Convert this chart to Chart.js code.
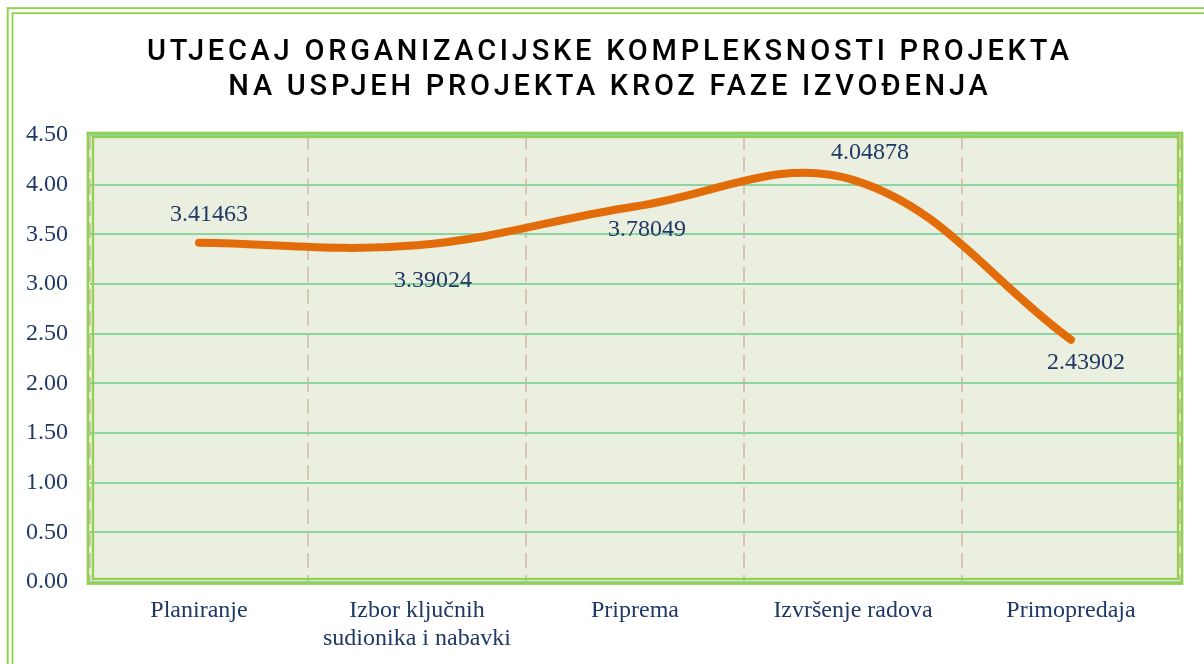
<!DOCTYPE html>
<html>
<head>
<meta charset="utf-8">
<script src="https://cdn.jsdelivr.net/npm/chart.js@4/dist/chart.umd.min.js"></script>
<style>
  html, body { margin: 0; padding: 0; background: #ffffff; }
  #wrap { width: 1204px; height: 664px; }
</style>
</head>
<body>
<div id="wrap"><canvas id="c" width="1204" height="664"></canvas></div>
<script>
const titleLines = ['UTJECAJ ORGANIZACIJSKE KOMPLEKSNOSTI PROJEKTA', 'NA USPJEH PROJEKTA KROZ FAZE IZVOĐENJA'];
const categories = ['Planiranje', ['Izbor ključnih', 'sudionika i nabavki'], 'Priprema', 'Izvršenje radova', 'Primopredaja'];
const values = [3.41463, 3.39024, 3.78049, 4.04878, 2.43902];
const valueLabels = ['3.41463', '3.39024', '3.78049', '4.04878', '2.43902'];
const yMin = 0, yMax = 4.5, yStep = 0.5;

const GREEN = '#92D050';
const NAVY = '#1F3864';
const SERIF = '"Liberation Serif", "Times New Roman", serif';

const backgroundPlugin = {
  id: 'bgFrame',
  beforeDraw(chart) {
    const ctx = chart.ctx;
    const a = chart.chartArea;
    ctx.save();
    ctx.fillStyle = '#ffffff';
    ctx.fillRect(0, 0, chart.width, chart.height);
    ctx.strokeStyle = GREEN;
    ctx.lineWidth = 2;
    ctx.strokeRect(7.7, 8.2, 1400, 1000);
    ctx.lineWidth = 1.8;
    ctx.strokeRect(12.5, 13.2, 1400, 1000);
    ctx.fillStyle = '#EBEFDF';
    ctx.fillRect(a.left, a.top, a.right - a.left, a.bottom - a.top);
    ctx.restore();
  },
  beforeDatasetsDraw(chart) {
    const ctx = chart.ctx;
    const a = chart.chartArea;
    ctx.save();
    ctx.strokeStyle = GREEN;
    ctx.lineWidth = 2.7;
    ctx.strokeRect(a.left - 2, a.top - 2, (a.right + 2) - (a.left - 2), (a.bottom + 1.5) - (a.top - 2));
    ctx.lineWidth = 2.3;
    ctx.strokeRect(a.left + 3, a.top + 2, (a.right - 2) - (a.left + 3), (a.bottom - 3) - (a.top + 2));
    ctx.restore();
  }
};

const titlePlugin = {
  id: 'spacedTitle',
  afterDraw(chart, args, opts) {
    const ctx = chart.ctx;
    ctx.save();
    ctx.font = opts.font;
    ctx.fillStyle = opts.color;
    ctx.textAlign = 'left';
    ctx.textBaseline = 'alphabetic';
    ctx.letterSpacing = '0px';
    const first = opts.lines[0];
    const w0 = ctx.measureText(first).width;
    const s = (opts.firstLineWidth - w0) / (first.length - 1);
    ctx.letterSpacing = s + 'px';
    opts.lines.forEach((line, i) => {
      ctx.letterSpacing = '0px';
      const wn = ctx.measureText(line).width + s * (line.length - 1);
      ctx.letterSpacing = s + 'px';
      ctx.fillText(line, opts.centerX - wn / 2, opts.baselines[i]);
    });
    ctx.restore();
  }
};

const labelPlugin = {
  id: 'pointLabels',
  afterDatasetsDraw(chart, args, opts) {
    const ctx = chart.ctx;
    const meta = chart.getDatasetMeta(0);
    ctx.save();
    ctx.font = opts.font;
    ctx.fillStyle = opts.color;
    ctx.textAlign = 'center';
    ctx.textBaseline = 'middle';
    meta.data.forEach((pt, i) => {
      const off = opts.offsets[i];
      ctx.fillText(valueLabels[i], pt.x + off[0], pt.y + off[1]);
    });
    ctx.restore();
  }
};

new Chart(document.getElementById('c'), {
  type: 'line',
  data: {
    labels: categories,
    datasets: [{
      data: values,
      borderColor: '#E36C0A',
      borderWidth: 8,
      borderCapStyle: 'round',
      borderJoinStyle: 'round',
      pointRadius: 0,
      pointHoverRadius: 0,
      tension: 0.38,
      fill: false,
      clip: false
    }]
  },
  options: {
    responsive: false,
    animation: false,
    events: [],
    layout: { padding: { top: 135, right: 24, bottom: 0, left: 0 } },
    plugins: {
      legend: { display: false },
      title: { display: false },
      tooltip: { enabled: false },
      spacedTitle: {
        lines: titleLines,
        font: '500 29px Roboto, "DejaVu Sans", sans-serif',
        color: '#000000',
        firstLineWidth: 922,
        centerX: 608,
        baselines: [60, 95]
      },
      pointLabels: {
        font: '24px ' + SERIF,
        color: NAVY,
        offsets: [[10, -28], [16, 35], [12, 23], [17, -27], [15, 23]]
      }
    },
    scales: {
      x: {
        offset: true,
        afterFit(scale) { scale.height = 82; },
        grid: {
          offset: true,
          color: '#D9C5B5',
          lineWidth: 2,
          drawTicks: false
        },
        border: { display: false, dash: [15, 7] },
        ticks: {
          color: NAVY,
          font: { family: SERIF, size: 24, lineHeight: 1.1667 },
          padding: 15,
          maxRotation: 0,
          autoSkip: false
        }
      },
      y: {
        min: yMin,
        max: yMax,
        afterFit(scale) { scale.width = 90; },
        grid: { color: '#8DD5A0', lineWidth: 2, drawTicks: false },
        border: { display: false },
        ticks: {
          stepSize: yStep,
          color: NAVY,
          font: { family: SERIF, size: 24 },
          padding: 22,
          callback: (v) => Number(v).toFixed(2)
        }
      }
    }
  },
  plugins: [backgroundPlugin, titlePlugin, labelPlugin]
});
</script>
</body>
</html>
